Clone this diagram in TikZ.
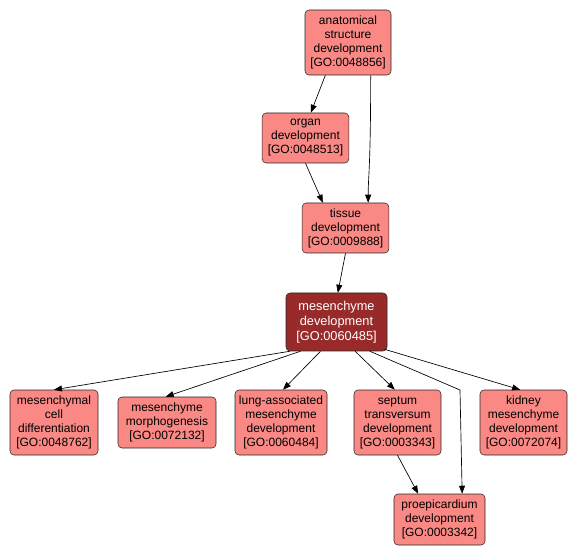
\documentclass[tikz,border=0pt]{standalone}
\usepackage{fontspec}
\setmainfont{Liberation Sans}
\usetikzlibrary{arrows.meta}
\definecolor{termfill}{RGB}{250,137,133}
\definecolor{focusfill}{RGB}{153,42,42}
\tikzset{
    term/.style={draw=black!85, fill=termfill, rounded corners=3pt, align=center,
        inner sep=1pt, font=\fontsize{9}{10.5}\selectfont},
    focus/.style={term, fill=focusfill, text=white},
    link/.style={-{Triangle[length=6pt,width=4.5pt]}, line width=0.5pt}
}
\begin{document}
\begin{tikzpicture}[x=0.75pt, y=-0.75pt]
    \useasboundingbox (0, 0) rectangle (579, 556);
    % upper chain
    \node[term, minimum width=64.5pt, minimum height=48.75pt] (anat) at (348, 42.5)
        {anatomical\\structure\\development\\{[GO:0048856]}};
    \node[term, minimum width=65pt, minimum height=37.5pt] (organ) at (305.5, 138)
        {organ\\development\\{[GO:0048513]}};
    \node[term, minimum width=65pt, minimum height=37.5pt] (tissue) at (345.5, 228)
        {tissue\\development\\{[GO:0009888]}};
    \node[focus, minimum width=75.75pt, minimum height=43.5pt,
        font=\fontsize{9.6}{11.2}\selectfont] (mes) at (336.5, 322)
        {mesenchyme\\development\\{[GO:0060485]}};
    % children
    \node[term, minimum width=66pt, minimum height=48.75pt] (mcell) at (54, 422.5)
        {mesenchymal\\cell\\differentiation\\{[GO:0048762]}};
    \node[term, minimum width=73.5pt, minimum height=38.25pt] (morph) at (167, 422.5)
        {mesenchyme\\morphogenesis\\{[GO:0072132]}};
    \node[term, minimum width=69pt, minimum height=48.75pt] (lung) at (281, 422.5)
        {lung-associated\\mesenchyme\\development\\{[GO:0060484]}};
    \node[term, minimum width=65.25pt, minimum height=48.75pt] (septum) at (397.5, 422.5)
        {septum\\transversum\\development\\{[GO:0003343]}};
    \node[term, minimum width=65.25pt, minimum height=48.75pt] (kidney) at (523.5, 422.5)
        {kidney\\mesenchyme\\development\\{[GO:0072074]}};
    \node[term, minimum width=68.25pt, minimum height=38.25pt] (proep) at (439.5, 519.5)
        {proepicardium\\development\\{[GO:0003342]}};
    \coordinate (bend) at (460, 390);
    % connectors
    \draw[link] ([xshift=-17pt]anat.south) -- ([xshift=4pt]organ.north);
    \draw[link] ([xshift=17pt]anat.south) .. controls ([xshift=17pt, yshift=-70pt]anat.south)
        and ([xshift=17pt, yshift=20pt]tissue.north) .. ([xshift=17pt]tissue.north);
    \draw[link] (organ.south) -- ([xshift=-17pt]tissue.north);
    \draw[link] (tissue.south) -- ([xshift=1pt]mes.north);
    \draw[link] ([xshift=-35pt]mes.south) -- (mcell.north);
    \draw[link] ([xshift=-27pt]mes.south) -- ([xshift=-1pt]morph.north);
    \draw[link] ([xshift=-12pt]mes.south) -- ([xshift=1.5pt]lung.north);
    \draw[link] ([xshift=14pt]mes.south) -- ([xshift=-2pt]septum.north);
    \draw[link] ([xshift=25pt]mes.south) -- (bend) -- ([xshift=17pt]proep.north);
    \draw[link] ([xshift=36pt, yshift=1.5pt]mes.south) -- ([xshift=-2.5pt]kidney.north);
    \draw[link] (septum.south) -- ([xshift=-16pt]proep.north);
\end{tikzpicture}
\end{document}
